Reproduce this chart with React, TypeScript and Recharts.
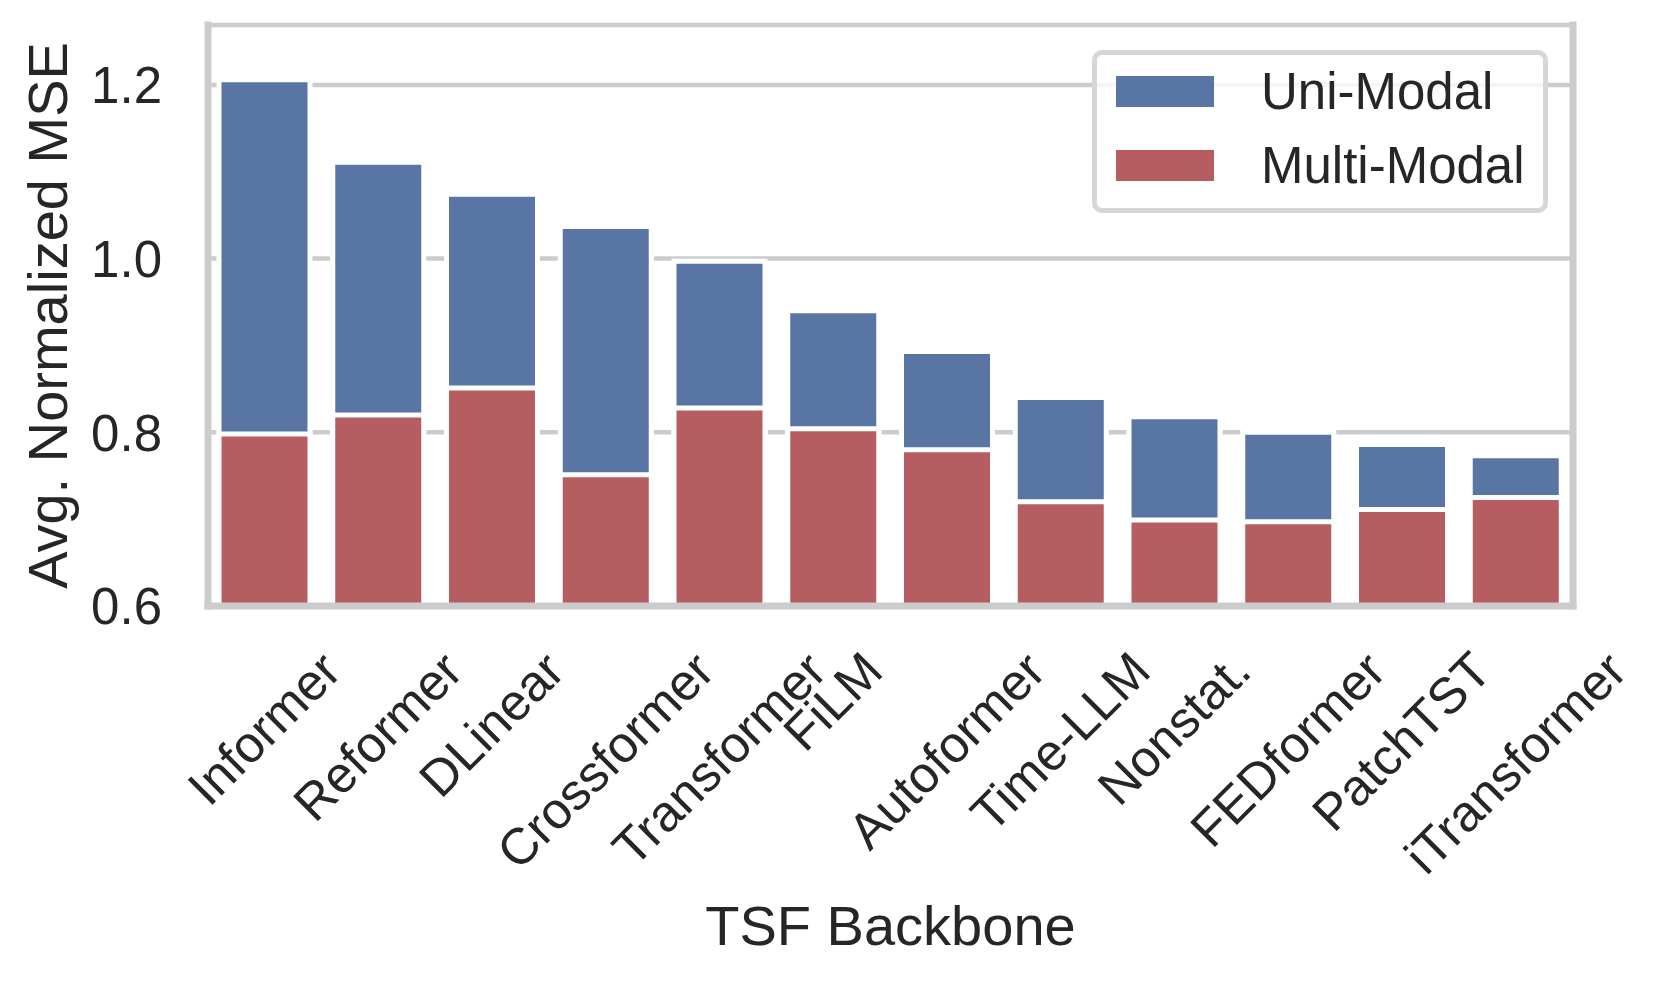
import { BarChart, Bar, XAxis, YAxis, CartesianGrid, Legend } from 'recharts';

const categories = ['Informer', 'Reformer', 'DLinear', 'Crossformer', 'Transformer', 'FiLM', 'Autoformer', 'Time-LLM', 'Nonstat.', 'FEDformer', 'PatchTST', 'iTransformer'];
const uniModal = [1.206, 1.111, 1.074, 1.037, 0.997, 0.94, 0.893, 0.84, 0.818, 0.8, 0.786, 0.773];
const multiModal = [0.798, 0.82, 0.851, 0.751, 0.828, 0.804, 0.78, 0.72, 0.699, 0.697, 0.711, 0.725];
const yTicks = [0.6, 0.8, 1.0, 1.2];

const series = [
  { key: 'uni', name: 'Uni-Modal', color: '#5975a4' },
  { key: 'multi', name: 'Multi-Modal', color: '#b55d60' },
];

const data = categories.map((name, i) => ({ name, uni: uniModal[i], multi: multiModal[i] }));

const FONT = "'Liberation Sans', Arial, sans-serif";
const TEXT = '#262626';
const FRAME = '#cccccc';
const TICK_SIZE = 51;

let ctx: CanvasRenderingContext2D | null = null;
const measure = (s: string) => {
  if (!ctx) ctx = document.createElement('canvas').getContext('2d');
  if (!ctx) return s.length * TICK_SIZE * 0.5;
  ctx.font = `${TICK_SIZE}px 'Liberation Sans', Arial, sans-serif`;
  return ctx.measureText(s).width;
};

// matplotlib style: rotation=45, ha='center' -> rotated bbox centred under the tick
const XTick = (props: any) => {
  const { x, y, payload } = props;
  const w = measure(payload.value);
  const h = TICK_SIZE * 1.17;
  const box = (w + h) * Math.SQRT1_2;
  const cy = y + 35 + box / 2;
  return (
    <text
      x={x}
      y={cy}
      textAnchor="middle"
      dy="0.32em"
      transform={`rotate(-45, ${x}, ${cy})`}
      fontFamily={FONT}
      fontSize={TICK_SIZE}
      fill={TEXT}
    >
      {payload.value}
    </text>
  );
};

const YTick = (props: any) => {
  const { x, y, payload } = props;
  return (
    <text x={x} y={y} dy="0.36em" textAnchor="end" fontFamily={FONT} fontSize={TICK_SIZE} fill={TEXT}>
      {Number(payload.value).toFixed(1)}
    </text>
  );
};

const XTitle = (props: any) => {
  const { x, y, width } = props.viewBox;
  return (
    <text x={x + width / 2} y={y + 339} textAnchor="middle" fontFamily={FONT} fontSize={56} fill={TEXT}>
      TSF Backbone
    </text>
  );
};

const YTitle = (props: any) => {
  const { y, height } = props.viewBox;
  const cx = 67;
  const cy = y + height / 2;
  return (
    <text x={cx} y={cy} textAnchor="middle" transform={`rotate(-90, ${cx}, ${cy})`} fontFamily={FONT} fontSize={56} fill={TEXT}>
      Avg. Normalized MSE
    </text>
  );
};

const LegendBox = () => (
  <div
    style={{
      boxSizing: 'border-box',
      width: 456,
      height: 163,
      border: '5px solid #d6d6d6',
      borderRadius: 10,
      background: 'rgba(255,255,255,0.8)',
      padding: '0 0 0 19px',
      fontFamily: FONT,
      fontSize: 51,
      color: TEXT,
    }}
  >
    {series.map((s) => (
      <div key={s.key} style={{ display: 'flex', alignItems: 'center', height: 74, marginTop: s.key === 'uni' ? -1 : 0 }}>
        <div style={{ width: 98, height: 31, background: s.color, marginRight: 47 }} />
        <span style={{ lineHeight: 1 }}>{s.name}</span>
      </div>
    ))}
  </div>
);

const frameLine = { stroke: FRAME, strokeWidth: 7, strokeLinecap: 'square' as const };

export default function App() {
  return (
    <div style={{ position: 'absolute', left: 0, top: 0, background: '#fff' }}>
      <BarChart width={1662} height={982} data={data} margin={{ top: 25, right: 88, bottom: 0, left: 0 }}>
        <CartesianGrid horizontal vertical={false} stroke={FRAME} strokeWidth={4.5} />
        <XAxis
          xAxisId="uni"
          dataKey="name"
          height={376}
          interval={0}
          tickLine={false}
          tickSize={0}
          tickMargin={0}
          tick={<XTick />}
          axisLine={frameLine}
          label={<XTitle />}
        />
        <XAxis xAxisId="multi" dataKey="name" height={0} tick={false} tickLine={false} axisLine={false} />
        <XAxis xAxisId="top" dataKey="name" orientation="top" height={0} tick={false} tickLine={false} axisLine={frameLine} />
        <YAxis
          domain={[0.6, 1.269]}
          allowDataOverflow
          ticks={yTicks}
          width={208}
          tickLine={false}
          tickSize={0}
          tickMargin={46}
          tick={<YTick />}
          axisLine={frameLine}
          label={<YTitle />}
        />
        <YAxis
          yAxisId="right"
          orientation="right"
          domain={[0.6, 1.269]}
          allowDataOverflow
          ticks={yTicks}
          width={1}
          tick={false}
          tickLine={false}
          axisLine={frameLine}
        />
        <Bar xAxisId="uni" dataKey="uni" name="Uni-Modal" fill={series[0].color} stroke="#ffffff" strokeWidth={5} barSize={91} isAnimationActive={false} />
        <Bar xAxisId="multi" dataKey="multi" name="Multi-Modal" fill={series[1].color} stroke="#ffffff" strokeWidth={5} barSize={91} isAnimationActive={false} />
        <Legend
          layout="vertical"
          align="center"
          verticalAlign="middle"
          content={<LegendBox />}
          wrapperStyle={{ left: 1092, top: 50, width: 456, height: 163 }}
        />
      </BarChart>
    </div>
  );
}
